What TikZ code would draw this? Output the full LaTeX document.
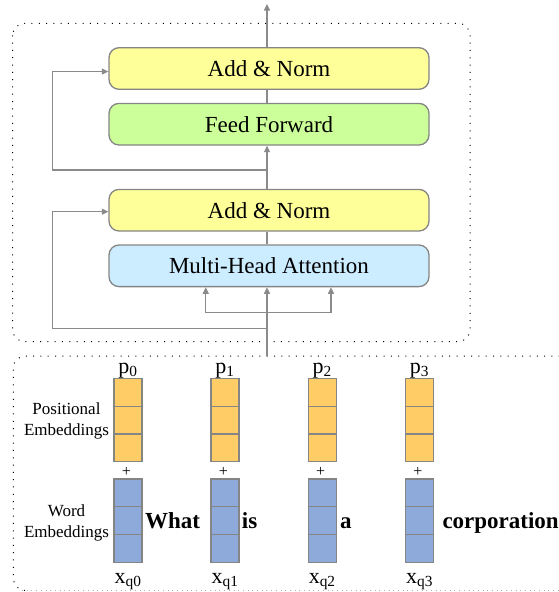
\documentclass[tikz,border=0pt]{standalone}
\usepackage{fontspec}
\setmainfont{Liberation Serif}
\usetikzlibrary{arrows.meta}
\definecolor{anyellow}{HTML}{FFFF99}
\definecolor{ffgreen}{HTML}{CCFF99}
\definecolor{mhablue}{HTML}{CCECFF}
\definecolor{cellorange}{HTML}{FFCC66}
\definecolor{cellblue}{HTML}{8EAADB}
\definecolor{bordergray}{HTML}{858585}
\definecolor{linegray}{HTML}{8A8A8A}
\definecolor{dotgray}{HTML}{B0B0B0}
\tikzset{
  blk/.style={draw=bordergray, line width=1.3pt, rounded corners=10pt,
    minimum width=320pt, minimum height=41.6pt, inner sep=0pt,
    font=\rmfamily\fontsize{23}{27}\selectfont},
  ln/.style={draw=linegray, line width=1.3pt},
  arr/.style={ln, -{Triangle[width=6pt,length=6.5pt]}},
  dotbox/.style={draw=black, line width=1pt, dash pattern=on 1pt off 6.3pt, rounded corners=12pt},
  dotlight/.style={draw=dotgray, line width=1pt, dash pattern=on 1pt off 3.7pt},
  cellO/.style={draw=bordergray, fill=cellorange, line width=1.2pt, minimum width=28pt, minimum height=27.8pt, inner sep=0pt},
  cellB/.style={draw=bordergray, fill=cellblue, line width=1.2pt, minimum width=28pt, minimum height=27.8pt, inner sep=0pt},
  plab/.style={anchor=base, inner sep=0pt, font=\rmfamily\fontsize{22}{26}\selectfont},
  sidelab/.style={anchor=base, inner sep=0pt, font=\rmfamily\fontsize{17}{20}\selectfont},
  word/.style={anchor=base west, inner sep=0pt, font=\rmfamily\fontsize{23}{27}\selectfont\bfseries},
  plus/.style={inner sep=0pt, font=\rmfamily\fontsize{16}{18}\selectfont},
}
\begin{document}
\begin{tikzpicture}[x=1pt,y=-1pt]
\useasboundingbox (0,0) rectangle (559,592);
% dotted containers
\draw[dotbox] (12.7,23.3) rectangle (470,341.7);
\begin{scope}
\clip (0,0) rectangle (559,592);
\draw[dotbox] (640,356) -- (13.3,356) -- (13.3,590.5) -- (22,590.5);
\draw[dotlight] (22,590.5) -- (640,590.5);
\end{scope}
% encoder blocks
\node[blk, fill=anyellow] (an1) at (269,68.5) {Add \& Norm};
\node[blk, fill=ffgreen] (ff) at (269,124.2) {Feed Forward};
\node[blk, fill=anyellow] (an2) at (269,210.2) {Add \& Norm};
\node[blk, fill=mhablue] (mha) at (269,265.8) {Multi-Head Attention};
% connectors
\coordinate (top) at (267,4);
\coordinate (b1) at (267,170);
\coordinate (s1) at (52.7,170);
\coordinate (in) at (267,356);
\coordinate (b2) at (267,328.7);
\coordinate (s2) at (52.7,328.7);
\coordinate (hl) at (205.7,312.7);
\coordinate (hr) at (331,312.7);
\draw[arr] (an1.north -| top) -- (top);
\draw[ln] (ff.north -| top) -- (an1.south -| top);
\draw[arr] (an2.north -| top) -- (ff.south -| top);
\draw[arr] (b1) -- (s1) |- ([yshift=-3pt]an1.west);
\draw[ln] (mha.north -| top) -- (an2.south -| top);
\draw[arr] (in) -- (in |- mha.south);
\draw[arr] (b2) -- (s2) |- ([yshift=-1.5pt]an2.west);
\draw[ln] (hl) -- (hr);
\draw[arr] (hl) -- (hl |- mha.south);
\draw[arr] (hr) -- (hr |- mha.south);
% embeddings
\foreach \i/\cx in {0/128,1/225,2/322.2,3/419.5}{
  \node[cellO] (po\i a) at (\cx,392.2) {};
  \node[cellO] (po\i b) at (\cx,420) {};
  \node[cellO] (po\i c) at (\cx,447.8) {};
  \node[cellB] (wo\i a) at (\cx,492.9) {};
  \node[cellB] (wo\i b) at (\cx,520.7) {};
  \node[cellB] (wo\i c) at (\cx,548.5) {};
  \node[plab] (p\i) at (\cx,373.5) {p\textsubscript{\i}};
  \node[plus] (plus\i) at (\cx-1.5,471.7) {+};
  \node[plab] (x\i) at (\cx,583) {x\textsubscript{q\i}};
}
\node[word] (w0) at (145,528.3) {What};
\node[word] (w1) at (241.7,528.3) {is};
\node[word] (w2) at (340,528.3) {a};
\node[word] (w3) at (442.3,528.3) {corporation};
\node[sidelab] (pl1) at (66.5,414) {Positional};
\node[sidelab] (pl2) at (66.5,435) {Embeddings};
\node[sidelab] (wl1) at (66.5,516.7) {Word};
\node[sidelab] (wl2) at (66.5,537.3) {Embeddings};
\end{tikzpicture}
\end{document}
